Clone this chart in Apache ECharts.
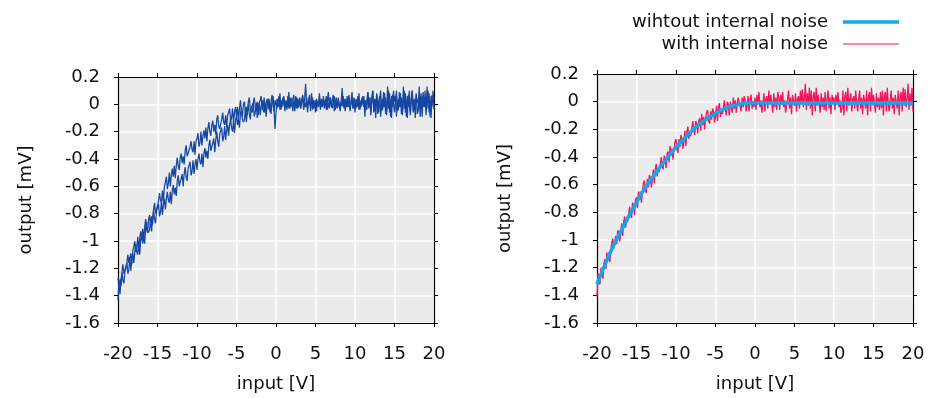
<!DOCTYPE html>
<html>
<head>
<meta charset="utf-8">
<script src="https://cdn.jsdelivr.net/npm/echarts@6/dist/echarts.min.js"></script>
<style>html,body{margin:0;padding:0;background:#fff}#c{width:932px;height:398px}</style>
</head>
<body>
<div id="c"></div>
<script>
// sampling grid of the input sweep (V)
const xStart = -20, xStep = 0.125;
const smoothStart = -20, smoothStep = 1;

// left panel: two sweeps (upper / lower trace), output in mV, one row per volt
const leftUp = [
-1.27,-1.33,-1.28,-1.33,-1.22,-1.17,-1.24,-1.25,
-1.24,-1.16,-1.10,-1.16,-1.17,-1.09,-1.17,-1.07,
-1.04,-1.00,-1.08,-1.05,-0.97,-1.06,-0.98,-0.93,
-0.99,-0.91,-0.99,-0.90,-0.84,-0.91,-0.94,-0.84,
-0.81,-0.88,-0.82,-0.88,-0.77,-0.72,-0.80,-0.80,
-0.80,-0.71,-0.65,-0.70,-0.72,-0.63,-0.71,-0.60,
-0.57,-0.53,-0.62,-0.58,-0.50,-0.60,-0.52,-0.47,
-0.53,-0.45,-0.54,-0.45,-0.39,-0.45,-0.48,-0.39,
-0.36,-0.43,-0.38,-0.44,-0.34,-0.30,-0.38,-0.39,
-0.39,-0.31,-0.27,-0.33,-0.35,-0.27,-0.37,-0.27,
-0.25,-0.21,-0.31,-0.28,-0.20,-0.30,-0.23,-0.19,
-0.25,-0.17,-0.27,-0.18,-0.13,-0.20,-0.23,-0.15,
-0.12,-0.20,-0.15,-0.22,-0.11,-0.08,-0.16,-0.18,
-0.18,-0.11,-0.06,-0.13,-0.15,-0.08,-0.17,-0.08,
-0.06,-0.03,-0.12,-0.10,-0.03,-0.13,-0.06,-0.02,
-0.09,-0.02,-0.11,-0.03,0.03,-0.05,-0.09,0.00,
0.02,-0.06,-0.02,-0.08,0.02,0.05,-0.04,-0.05,
-0.06,0.01,0.05,-0.02,-0.05,0.02,-0.08,0.01,
0.03,0.06,-0.04,-0.02,0.05,-0.06,0.01,0.04,
-0.03,0.04,-0.06,0.02,0.07,-0.01,-0.05,0.03,
0.04,-0.03,0.02,0.06,-0.04,0.01,-0.02,0.05,
0.03,-0.05,0.02,-0.01,0.06,-0.03,0.04,-0.02,
-0.02,0.03,0.07,-0.05,0.01,0.05,-0.03,0.02,
0.05,-0.03,0.02,0.07,-0.02,0.04,0.15,0.01,
-0.06,0.04,0.01,-0.02,0.08,-0.04,0.03,-0.01,
0.03,-0.05,0.02,-0.01,0.06,-0.03,0.04,-0.02,
0.06,-0.02,0.03,-0.04,0.02,0.09,-0.03,0.05,
0.04,-0.03,0.02,0.06,-0.04,0.01,-0.02,0.05,
0.05,-0.03,0.02,0.12,-0.02,0.04,-0.05,0.01,
-0.02,0.03,0.07,-0.05,0.01,0.05,-0.03,0.02,
-0.06,0.04,0.01,-0.02,0.08,-0.04,0.03,-0.01,
0.06,-0.02,0.03,-0.04,0.02,0.09,-0.03,0.05,
-0.06,0.03,0.10,-0.05,0.04,-0.02,0.08,-0.07,
0.02,0.06,-0.09,0.03,-0.04,0.09,-0.02,0.05,
-0.08,0.04,0.10,-0.06,0.03,-0.10,0.07,0.01,
-0.06,0.03,0.10,-0.05,0.04,-0.02,0.08,-0.07,
-0.05,0.13,-0.03,0.08,-0.09,0.06,-0.02,0.10,
-0.08,0.04,0.10,-0.06,0.03,-0.10,0.07,0.01,
0.02,0.06,-0.09,0.03,-0.04,0.09,-0.02,0.05,
-0.05,0.13,-0.03,0.08,-0.09,0.06,-0.02,0.10,
-0.04];
const leftDown = [
-1.43,-1.30,-1.39,-1.29,-1.23,-1.29,-1.31,-1.22,
-1.20,-1.16,-1.24,-1.21,-1.12,-1.22,-1.13,-1.09,
-1.16,-1.08,-1.02,-1.08,-1.10,-1.01,-1.10,-0.99,
-0.95,-1.02,-0.96,-1.02,-0.91,-0.86,-0.94,-0.94,
-0.92,-0.84,-0.93,-0.84,-0.78,-0.84,-0.87,-0.78,
-0.77,-0.73,-0.82,-0.79,-0.71,-0.81,-0.73,-0.69,
-0.77,-0.69,-0.64,-0.70,-0.72,-0.64,-0.73,-0.63,
-0.59,-0.66,-0.61,-0.67,-0.56,-0.52,-0.60,-0.61,
-0.59,-0.51,-0.60,-0.51,-0.46,-0.53,-0.56,-0.47,
-0.46,-0.42,-0.52,-0.49,-0.41,-0.51,-0.44,-0.40,
-0.48,-0.40,-0.36,-0.42,-0.44,-0.36,-0.46,-0.36,
-0.32,-0.39,-0.34,-0.40,-0.30,-0.26,-0.34,-0.35,
-0.33,-0.25,-0.35,-0.26,-0.20,-0.27,-0.31,-0.22,
-0.21,-0.17,-0.27,-0.24,-0.16,-0.26,-0.19,-0.15,
-0.23,-0.15,-0.11,-0.17,-0.20,-0.12,-0.21,-0.12,
-0.08,-0.15,-0.11,-0.17,-0.07,-0.03,-0.11,-0.13,
-0.11,-0.04,-0.13,-0.05,0.00,-0.07,-0.11,-0.02,
-0.02,0.01,-0.09,-0.06,0.01,-0.10,-0.03,0.01,
-0.08,-0.01,0.03,-0.04,-0.06,0.01,-0.09,0.00,
0.04,-0.04,0.00,-0.07,0.03,0.06,-0.03,-0.18,
-0.06,0.04,0.01,-0.02,0.08,-0.04,0.03,-0.01,
0.06,-0.02,0.03,-0.04,0.02,0.09,-0.03,0.05,
0.03,-0.05,0.02,-0.01,0.06,-0.03,0.04,-0.02,
0.04,-0.03,0.02,0.06,-0.04,0.01,-0.02,0.05,
-0.02,0.03,0.07,-0.05,0.01,0.05,-0.03,0.02,
-0.06,0.04,0.01,-0.02,0.08,-0.04,0.03,-0.01,
0.04,-0.03,0.02,0.06,-0.04,0.01,-0.02,0.05,
-0.02,0.03,0.07,-0.05,0.01,0.05,-0.03,0.02,
0.03,-0.05,0.02,-0.01,0.06,-0.03,0.04,-0.02,
0.06,-0.02,0.03,-0.04,0.02,0.09,-0.03,0.05,
0.04,-0.03,0.02,0.06,-0.04,0.01,-0.02,0.05,
0.02,0.06,-0.09,0.03,-0.04,0.09,-0.02,0.05,
-0.08,0.04,0.10,-0.06,0.03,-0.10,0.07,0.01,
-0.06,0.03,0.10,-0.05,0.04,-0.02,0.08,-0.07,
-0.05,0.13,-0.03,0.08,-0.09,0.06,-0.02,0.10,
0.02,0.06,-0.09,0.03,-0.04,0.09,-0.02,0.05,
-0.08,0.04,0.10,-0.06,0.03,-0.10,0.07,0.01,
-0.06,0.03,0.10,-0.05,0.04,-0.02,0.08,-0.07,
-0.05,0.13,-0.03,0.08,-0.09,0.06,-0.02,0.10,
-0.08,0.04,0.10,-0.06,0.03,-0.10,0.07,0.01,
0.05];

// right panel
const withNoise = [
-1.41,-1.24,-1.30,-1.32,-1.20,-1.21,-1.28,-1.17,
-1.14,-1.21,-1.09,-1.15,-1.09,-1.16,-1.07,-1.02,
-0.99,-1.06,-1.07,-0.97,-1.03,-0.93,-0.95,-1.01,
-0.96,-0.88,-0.97,-0.87,-0.83,-0.91,-0.85,-0.87,
-0.87,-0.76,-0.82,-0.84,-0.73,-0.75,-0.82,-0.71,
-0.69,-0.77,-0.65,-0.71,-0.65,-0.73,-0.65,-0.59,
-0.57,-0.64,-0.66,-0.56,-0.62,-0.53,-0.55,-0.62,
-0.57,-0.49,-0.59,-0.49,-0.45,-0.54,-0.48,-0.51,
-0.51,-0.40,-0.46,-0.49,-0.39,-0.41,-0.48,-0.38,
-0.36,-0.44,-0.32,-0.39,-0.34,-0.42,-0.34,-0.29,
-0.27,-0.34,-0.37,-0.27,-0.33,-0.24,-0.27,-0.34,
-0.29,-0.21,-0.32,-0.22,-0.18,-0.27,-0.22,-0.25,
-0.25,-0.14,-0.21,-0.24,-0.14,-0.16,-0.23,-0.14,
-0.12,-0.21,-0.09,-0.17,-0.11,-0.20,-0.12,-0.08,
-0.06,-0.14,-0.16,-0.07,-0.13,-0.05,-0.07,-0.15,
-0.11,-0.03,-0.14,-0.04,-0.01,-0.11,-0.05,-0.09,
-0.10,0.01,-0.06,-0.10,0.00,-0.02,-0.10,0.00,
0.01,-0.08,0.03,-0.05,0.01,-0.08,-0.01,0.03,
0.04,-0.04,-0.07,0.03,-0.04,0.04,0.01,-0.07,
-0.03,0.04,-0.07,0.02,0.05,-0.05,0.00,-0.04,
0.03,-0.06,0.05,-0.02,0.07,-0.04,0.01,-0.08,
-0.03,0.06,-0.07,0.02,0.04,-0.05,0.08,-0.01,
0.05,-0.02,-0.08,0.06,-0.04,0.03,-0.06,0.07,
0.03,-0.06,0.05,-0.02,0.07,-0.04,0.01,-0.08,
-0.07,0.02,0.08,-0.05,0.03,-0.09,0.05,0.00,
-0.03,0.06,-0.07,0.02,0.04,-0.05,0.08,-0.01,
0.09,-0.04,0.02,0.13,-0.06,0.06,-0.03,0.10,
-0.05,0.08,-0.10,0.04,0.07,-0.07,0.10,-0.03,
0.05,-0.02,-0.08,0.06,-0.04,0.03,-0.06,0.07,
-0.07,0.02,0.08,-0.05,0.03,-0.09,0.05,0.00,
0.03,-0.06,0.05,-0.02,0.07,-0.04,0.01,-0.08,
-0.05,0.08,-0.10,0.04,0.07,-0.07,0.10,-0.03,
-0.03,0.06,-0.07,0.02,0.04,-0.05,0.08,-0.01,
-0.07,0.02,0.08,-0.05,0.03,-0.09,0.05,0.00,
-0.05,0.08,-0.10,0.04,0.07,-0.07,0.10,-0.03,
0.05,-0.02,-0.08,0.06,-0.04,0.03,-0.06,0.07,
-0.05,0.08,-0.10,0.04,0.07,-0.07,0.10,-0.03,
-0.07,0.02,0.08,-0.05,0.03,-0.09,0.05,0.00,
-0.05,0.08,-0.10,0.04,0.07,-0.07,0.10,-0.03,
0.09,-0.04,0.02,0.13,-0.06,0.06,-0.03,0.10,
-0.07];
const withoutNoise = [
-1.32,-1.18,-1.05,-0.94,-0.83,-0.73,-0.63,-0.55,-0.47,-0.40,-0.33,-0.27,-0.21,-0.16,-0.12,-0.085,-0.055,-0.032,-0.018,-0.01,-0.01,
-0.01,-0.01,-0.01,-0.01,-0.01,-0.01,-0.01,-0.01,-0.01,-0.01,-0.01,-0.01,-0.01,-0.01,-0.01,-0.01,-0.01,-0.01,-0.01,-0.01];

const xTicks = {min: -20, max: 20, interval: 5};
const yTicks = {min: -1.6, max: 0.2, interval: 0.2};
const seriesNames = ['wihtout internal noise', 'with internal noise'];

function pairs(arr, start, step) { return arr.map((v, i) => [start + i * step, v]); }

const FONT = 'DejaVu Sans';
const FS = 18;
const TXT = '#111';
const line = {show: true, onZero: false, lineStyle: {color: '#000', width: 1.2}};
const tick = {show: true, inside: false, length: 4, lineStyle: {color: '#000', width: 1}};
function xAxes(g) {
  return [
    {type: 'value', gridIndex: g, position: 'bottom', ...xTicks,
     name: 'input [V]', nameLocation: 'middle', nameGap: 52,
     nameTextStyle: {fontSize: FS, color: TXT, fontFamily: FONT},
     axisLine: line, axisTick: tick,
     axisLabel: {fontSize: FS, color: TXT, margin: 22, fontFamily: FONT},
     splitLine: {show: true, lineStyle: {color: '#fff', width: 1.5}}},
    {type: 'value', gridIndex: g, position: 'top', ...xTicks,
     axisLine: line, axisTick: tick, axisLabel: {show: false}, splitLine: {show: false}}
  ];
}
function yAxes(g) {
  return [
    {type: 'value', gridIndex: g, position: 'left', ...yTicks,
     name: 'output [mV]', nameLocation: 'middle', nameGap: 83,
     nameTextStyle: {fontSize: FS, color: TXT, fontFamily: FONT},
     axisLine: line, axisTick: tick,
     axisLabel: {fontSize: FS, color: TXT, margin: 18, fontFamily: FONT,
       formatter: v => String(Math.round(v * 10) / 10)},
     splitLine: {show: true, lineStyle: {color: '#fff', width: 1.5}}},
    {type: 'value', gridIndex: g, position: 'right', ...yTicks,
     axisLine: line, axisTick: tick, axisLabel: {show: false}, splitLine: {show: false}}
  ];
}
const gridStyle = {show: true, backgroundColor: '#ebebeb', borderWidth: 0};
const legendBase = {orient: 'vertical', align: 'right', right: 28, itemWidth: 56, icon: 'rect',
  selectedMode: false, textStyle: {fontSize: FS, color: TXT, fontFamily: FONT, padding: [0, 10, 0, 0]}};

const chart = echarts.init(document.getElementById('c'), null, {renderer: 'canvas'});
chart.setOption({
  animation: false,
  textStyle: {fontFamily: FONT},
  grid: [
    {left: 118, top: 77, width: 316, height: 250, ...gridStyle},
    {left: 597, top: 74, width: 316, height: 253, ...gridStyle}
  ],
  xAxis: [...xAxes(0), ...xAxes(1)],
  yAxis: [...yAxes(0), ...yAxes(1)],
  legend: [
    {...legendBase, data: [seriesNames[0]], top: 8, itemHeight: 3.5},
    {...legendBase, data: [seriesNames[1]], top: 30, itemHeight: 1.2}
  ],
  series: [
    {type: 'line', xAxisIndex: 0, yAxisIndex: 0, data: pairs(leftUp, xStart, xStep),
     showSymbol: false, symbol: 'none', lineStyle: {color: '#1446a2', width: 1.25}, itemStyle: {color: '#1446a2'}},
    {type: 'line', xAxisIndex: 0, yAxisIndex: 0, data: pairs(leftDown, xStart, xStep),
     showSymbol: false, symbol: 'none', lineStyle: {color: '#1446a2', width: 1.25}, itemStyle: {color: '#1446a2'}},
    {type: 'line', name: seriesNames[1], xAxisIndex: 2, yAxisIndex: 2, data: pairs(withNoise, xStart, xStep),
     showSymbol: false, symbol: 'none', lineStyle: {color: '#f5135c', width: 1.3}, itemStyle: {color: '#f5135c'}},
    {type: 'line', name: seriesNames[0], xAxisIndex: 2, yAxisIndex: 2, data: pairs(withoutNoise, smoothStart, smoothStep),
     smooth: 0.4, showSymbol: false, symbol: 'none', lineStyle: {color: '#10a8ee', width: 3.5}, itemStyle: {color: '#10a8ee'}, z: 3}
  ]
});
</script>
</body>
</html>
